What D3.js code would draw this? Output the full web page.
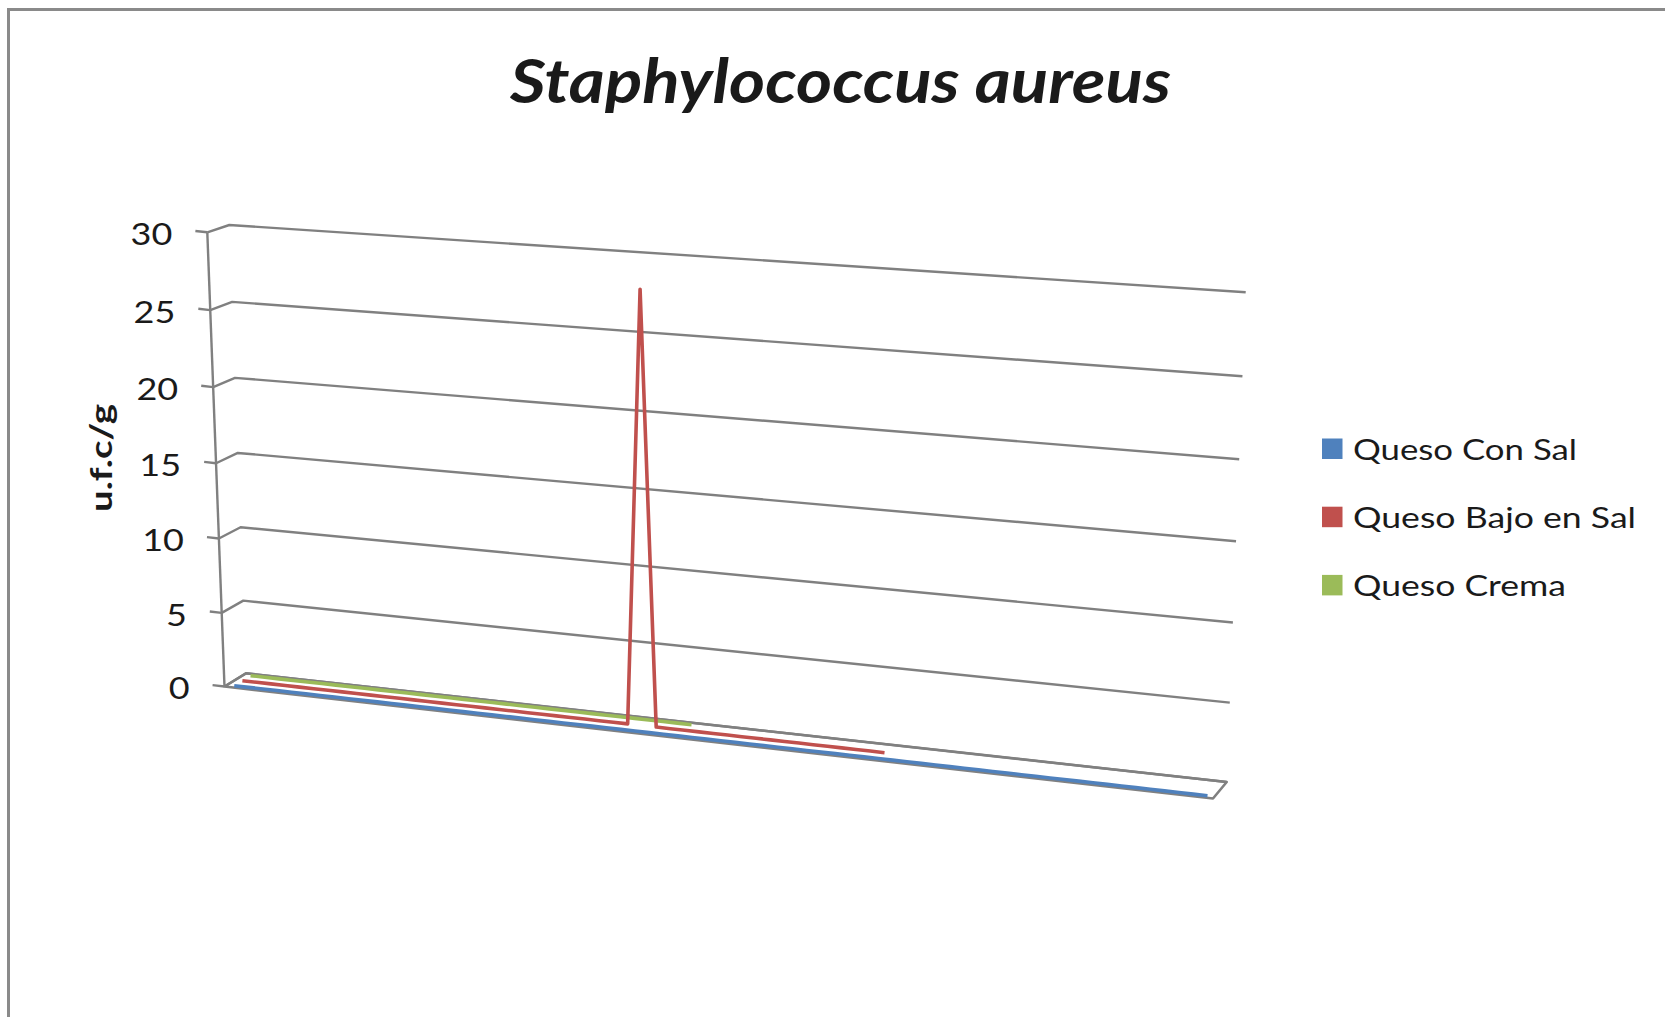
<!DOCTYPE html>
<html>
<head>
<meta charset="utf-8">
<script src="https://cdn.jsdelivr.net/npm/d3@7/dist/d3.min.js"></script>
<style>
  html, body { margin: 0; padding: 0; background: #fff; }
  svg { display: block; }
  text { font-family: Lato, "Open Sans", "DejaVu Sans", sans-serif; fill: #1a1a1a; }
</style>
</head>
<body>
<svg id="chart" width="1665" height="1017"></svg>
<script>
// ---- Data -------------------------------------------------------------
const chartTitle = "Staphylococcus aureus";
const yAxisTitle = "u.f.c/g";
const seriesNames = ["Queso Con Sal", "Queso Bajo en Sal", "Queso Crema"];
const seriesColors = ["#4F81BD", "#C0504D", "#9BBB59"];

// sample number (category) along the floor of the chart
const categories = [
  1, 2, 3, 4, 5, 6, 7, 8, 9, 10, 11, 12, 13, 14, 15, 16, 17, 18, 19, 20,
  21, 22, 23, 24, 25, 26, 27, 28, 29, 30, 31, 32, 33, 34, 35, 36, 37, 38, 39, 40,
  41, 42, 43, 44, 45, 46, 47, 48, 49, 50, 51, 52, 53, 54, 55, 56, 57, 58, 59, 60,
  61, 62, 63, 64, 65, 66, 67, 68, 69
];

const quesoConSal = [
  0, 0, 0, 0, 0, 0, 0, 0, 0, 0, 0, 0, 0, 0, 0, 0, 0, 0, 0, 0,
  0, 0, 0, 0, 0, 0, 0, 0, 0, 0, 0, 0, 0, 0, 0, 0, 0, 0, 0, 0,
  0, 0, 0, 0, 0, 0, 0, 0, 0, 0, 0, 0, 0, 0, 0, 0, 0, 0, 0, 0,
  0, 0, 0, 0, 0, 0, 0, 0, 0
];
const quesoBajoEnSal = [
  0, 0, 0, 0, 0, 0, 0, 0, 0, 0, 0, 0, 0, 0, 0, 0, 0, 0, 0, 0,
  0, 0, 0, 0, 0, 0, 0, 0, 28, 0, 0, 0, 0, 0, 0, 0, 0, 0, 0, 0,
  0, 0, 0, 0, 0, 0
];
const quesoCrema = [
  0, 0, 0, 0, 0, 0, 0, 0, 0, 0, 0, 0, 0, 0, 0, 0, 0, 0, 0, 0,
  0, 0, 0, 0, 0, 0, 0, 0, 0, 0, 0, 0
];

const yTicks = [0, 5, 10, 15, 20, 25, 30];

// ---- Layout -------------------------------------------------------------
const svg = d3.select("#chart");
const gridColor = "#808080";

// outer chart frame
svg.append("rect")
  .attr("x", 8.5).attr("y", 9.5)
  .attr("width", 2400).attr("height", 2400)
  .attr("fill", "none").attr("stroke", "#8a8a8a").attr("stroke-width", 3);

// corners of the 3-D plot box (front/back, left/right, bottom/top)
const box = {
  FLB: [224.5, 686.5], FRB: [1213, 798.5], BLB: [246, 673.3], BRB: [1226.7, 782],
  FLT: [207.3, 232.3], FRT: [1232.5, 302],  BLT: [229.3, 225], BRT: [1245.7, 292.3]
};

const lerp = (a, b, s) => [a[0] + (b[0] - a[0]) * s, a[1] + (b[1] - a[1]) * s];

// perspective foreshortening along the vertical edge
const persp = 0.9667;
const warp = s => persp * s / (1 + (persp - 1) * s);

// u: across categories [0..1], t: height fraction [0..1], w: depth [0..1]
function project(u, t, w) {
  const fb = lerp(box.FLB, box.FRB, u), bb = lerp(box.BLB, box.BRB, u);
  const ft = lerp(box.FLT, box.FRT, u), bt = lerp(box.BLT, box.BRT, u);
  const bottom = lerp(fb, bb, w), top = lerp(ft, bt, w);
  return lerp(bottom, top, warp(t));
}

// scales
const x = d3.scalePoint().domain(categories).range([0, 1]).padding(0.5);
const y = d3.scaleLinear().domain([0, 30]).range([0, 1]);
const z = d3.scalePoint().domain(seriesNames).range([0.12, 0.88]);

const lineGen = d3.line();

// back wall and side wall gridlines
const grid = svg.append("g").attr("fill", "none").attr("stroke", gridColor)
  .attr("stroke-width", 2.4).attr("stroke-linejoin", "round");
yTicks.forEach(v => {
  const t = y(v);
  grid.append("path").attr("d", lineGen([project(0, t, 0), project(0, t, 1), project(1, t, 1)]));
});

// floor outline
svg.append("path")
  .attr("d", lineGen([project(0, 0, 0), project(0, 0, 1), project(1, 0, 1), project(1, 0, 0)]) + "Z")
  .attr("fill", "none").attr("stroke", gridColor).attr("stroke-width", 2.6)
  .attr("stroke-linejoin", "round");

// series lines, drawn from back to front
const seriesData = [quesoConSal, quesoBajoEnSal, quesoCrema];
const order = [2, 1, 0];
order.forEach(i => {
  const name = seriesNames[i];
  const pts = seriesData[i].map((v, k) => project(x(categories[k]), y(v), z(name)));
  svg.append("path")
    .attr("d", lineGen(pts))
    .attr("fill", "none")
    .attr("stroke", seriesColors[i])
    .attr("stroke-width", 3.6)
    .attr("stroke-linejoin", "round");
});

// vertical value axis on the front-left edge
const axis = svg.append("g");
axis.append("path")
  .attr("d", lineGen([project(0, 0, 0), project(0, 1, 0)]))
  .attr("stroke", gridColor).attr("stroke-width", 2.4).attr("fill", "none");

const dirU = (() => {
  const a = box.FLB, b = box.FRB;
  const dx = b[0] - a[0], dy = b[1] - a[1], len = Math.hypot(dx, dy);
  return [dx / len, dy / len];
})();
const tickLen = 12;

yTicks.forEach(v => {
  const p = project(0, y(v), 0);
  const q = [p[0] - dirU[0] * tickLen, p[1] - dirU[1] * tickLen];
  axis.append("path").attr("d", lineGen([p, q]))
    .attr("stroke", gridColor).attr("stroke-width", 2.4).attr("fill", "none");
  axis.append("text")
    .attr("transform", `translate(${q[0] - 23},${p[1] + 1}) scale(1.2,1)`)
    .attr("text-anchor", "end")
    .attr("dominant-baseline", "central")
    .attr("font-size", 30)
    .text(v);
});

// axis title
svg.append("text")
  .attr("transform", "translate(112,458) rotate(-90)")
  .attr("text-anchor", "middle")
  .attr("font-size", 31)
  .attr("font-weight", "bold")
  .attr("textLength", 108)
  .attr("lengthAdjust", "spacingAndGlyphs")
  .text(yAxisTitle);

// chart title
svg.append("text")
  .attr("x", 840.5).attr("y", 103)
  .attr("text-anchor", "middle")
  .attr("font-size", 61)
  .attr("font-weight", "bold")
  .attr("font-style", "italic")
  .attr("textLength", 661)
  .attr("lengthAdjust", "spacingAndGlyphs")
  .text(chartTitle);

// legend
const legendWidths = [224, 283, 213];
const legend = svg.append("g").attr("transform", "translate(1322,438.5)");
seriesNames.forEach((name, i) => {
  const g = legend.append("g").attr("transform", `translate(0,${i * 68.2})`);
  g.append("rect").attr("width", 20.5).attr("height", 20.5).attr("fill", seriesColors[i]);
  g.append("text")
    .attr("x", 31).attr("y", 21)
    .attr("font-size", 28.5)
    .attr("textLength", legendWidths[i])
    .attr("lengthAdjust", "spacingAndGlyphs")
    .text(name);
});
</script>
</body>
</html>
